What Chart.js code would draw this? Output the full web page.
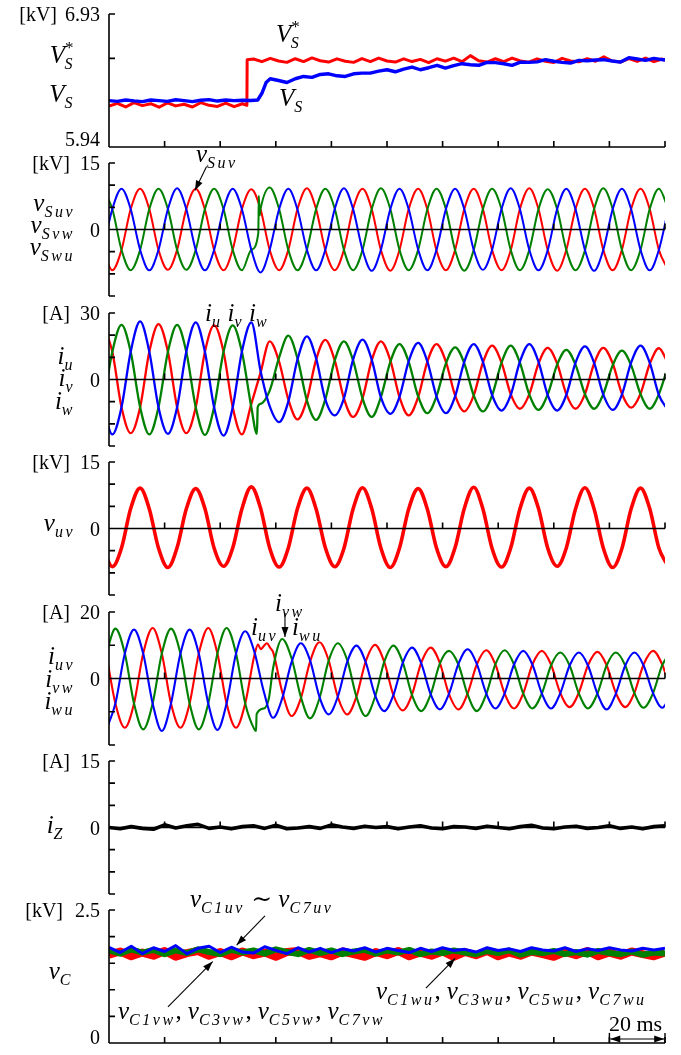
<!DOCTYPE html>
<html lang="en">
<head>
<meta charset="utf-8">
<title>Waveforms</title>
<script src="https://cdn.jsdelivr.net/npm/chart.js@4.4.1/dist/chart.umd.min.js"></script>
<style>
  html, body { margin: 0; padding: 0; background: #fff; }
  #page { position: relative; width: 681px; height: 1055px; overflow: hidden;
    font-family: "Liberation Serif", "DejaVu Serif", serif; color: #000; }
  #page canvas { position: absolute; left: 0; }
  .lbl { position: absolute; white-space: nowrap; line-height: 1; font-size: 20px; transform: translateY(-50%); }
  .m { font-style: italic; font-size: 25px; }
  .m sub { font-size: 16px; position: relative; top: 6px; vertical-align: baseline; letter-spacing: 2.5px; }
  .m sup { font-size: 17px; position: relative; top: -10px; vertical-align: baseline; font-style: normal; }
  .m sub.under { margin-left: -9px; }
  .up { font-style: normal; }
  .sep { font-style: normal; margin-right: 6px; }
  .gap { margin-right: 5px; }
  .big { font-size: 22px; }
</style>
</head>
<body>
<div id="page">
  <canvas id="chartVs" width="681" height="153" style="top:4px"></canvas>
  <canvas id="chartVsLine" width="681" height="153" style="top:153px"></canvas>
  <canvas id="chartIs" width="681" height="153" style="top:303px"></canvas>
  <canvas id="chartVuv" width="681" height="153" style="top:452px"></canvas>
  <canvas id="chartIarm" width="681" height="153" style="top:602px"></canvas>
  <canvas id="chartIz" width="681" height="153" style="top:751px"></canvas>
  <canvas id="chartVc" width="681" height="153" style="top:900px"></canvas>

  <!-- panel 1 -->
  <div class="lbl" style="right:624px;top:14px">[kV]</div>
  <div class="lbl" style="right:581px;top:14px">6.93</div>
  <div class="lbl m" style="right:606px;top:54px">V<sup>*</sup><sub class="under">S</sub></div>
  <div class="lbl m" style="right:606px;top:93px">V<sub>S</sub></div>
  <div class="lbl" style="right:581px;top:139px">5.94</div>
  <div class="lbl m" style="left:276px;top:33px">V<sup>*</sup><sub class="under">S</sub></div>
  <div class="lbl m" style="left:279px;top:97px">V<sub>S</sub></div>

  <!-- panel 2 -->
  <div class="lbl" style="right:611px;top:163px">[kV]</div>
  <div class="lbl" style="right:581px;top:163px">15</div>
  <div class="lbl m" style="right:606px;top:202px">v<sub>Suv</sub></div>
  <div class="lbl m" style="right:606px;top:224px">v<sub>Svw</sub></div>
  <div class="lbl" style="right:581px;top:229.5px">0</div>
  <div class="lbl m" style="right:606px;top:246px">v<sub>Swu</sub></div>
  <div class="lbl m" style="left:196px;top:152.5px">v<sub>Suv</sub></div>

  <!-- panel 3 -->
  <div class="lbl" style="right:611px;top:313px">[A]</div>
  <div class="lbl" style="right:581px;top:313px">30</div>
  <div class="lbl m" style="right:606px;top:355px">i<sub>u</sub></div>
  <div class="lbl m" style="right:606px;top:377px">i<sub>v</sub></div>
  <div class="lbl" style="right:581px;top:379.5px">0</div>
  <div class="lbl m" style="right:606px;top:399.5px">i<sub>w</sub></div>
  <div class="lbl m" style="left:205px;top:312px">i<sub class="gap">u</sub>i<sub class="gap">v</sub>i<sub>w</sub></div>

  <!-- panel 4 -->
  <div class="lbl" style="right:611px;top:462px">[kV]</div>
  <div class="lbl" style="right:581px;top:462px">15</div>
  <div class="lbl m" style="right:606px;top:522px">v<sub>uv</sub></div>
  <div class="lbl" style="right:581px;top:528.5px">0</div>

  <!-- panel 5 -->
  <div class="lbl" style="right:611px;top:612px">[A]</div>
  <div class="lbl" style="right:581px;top:612px">20</div>
  <div class="lbl m" style="right:606px;top:655px">i<sub>uv</sub></div>
  <div class="lbl m" style="right:606px;top:677.5px">i<sub>vw</sub></div>
  <div class="lbl" style="right:581px;top:678.5px">0</div>
  <div class="lbl m" style="right:606px;top:700px">i<sub>wu</sub></div>
  <div class="lbl m" style="left:275px;top:602px">i<sub>vw</sub></div>
  <div class="lbl m" style="left:251px;top:626px">i<sub>uv</sub></div>
  <div class="lbl m" style="left:292px;top:626px">i<sub>wu</sub></div>

  <!-- panel 6 -->
  <div class="lbl" style="right:611px;top:761px">[A]</div>
  <div class="lbl" style="right:581px;top:761px">15</div>
  <div class="lbl m" style="right:616px;top:824px">i<sub>Z</sub></div>
  <div class="lbl" style="right:581px;top:827.5px">0</div>

  <!-- panel 7 -->
  <div class="lbl" style="right:618px;top:910px">[kV]</div>
  <div class="lbl" style="right:581px;top:910px">2.5</div>
  <div class="lbl m" style="right:608px;top:970px">v<sub>C</sub></div>
  <div class="lbl" style="right:581px;top:1036.5px">0</div>
  <div class="lbl m" style="left:190px;top:898px">v<sub>C1uv</sub> <span class="up">&#8764;</span> v<sub>C7uv</sub></div>
  <div class="lbl m" style="left:118px;top:1010px">v<sub>C1vw</sub><span class="sep">,</span>v<sub>C3vw</sub><span class="sep">,</span>v<sub>C5vw</sub><span class="sep">,</span>v<sub>C7vw</sub></div>
  <div class="lbl m" style="left:376px;top:990px">v<sub>C1wu</sub><span class="sep">,</span>v<sub>C3wu</sub><span class="sep">,</span>v<sub>C5wu</sub><span class="sep">,</span>v<sub>C7wu</sub></div>
  <div class="lbl big" style="left:609px;top:1024px">20 ms</div>
</div>

<script>
// time axis [ms], ticks every 20 ms
const xTicks = [20, 40, 60, 80, 100, 120, 140, 160, 180, 200];

// panel 1: DC voltage reference and measurement [kV]
const vsRefTimes = [0, 3, 6, 9, 12, 15, 18, 21, 24, 27, 30, 33, 36, 39, 42, 45, 48, 49.6, 49.7,
  52, 55, 58, 61, 64, 67, 70, 73, 76, 79, 82, 85, 88, 91, 94, 97, 100, 103, 106, 109, 112, 115, 118,
  121, 124, 127, 130, 133, 136, 139, 142, 145, 148, 151, 154, 157, 160, 163, 166, 169, 172, 175, 178,
  181, 184, 187, 190, 193, 196, 199, 200];
const vsRefValues = [6.245, 6.265, 6.238, 6.27, 6.248, 6.262, 6.236, 6.268, 6.246, 6.258, 6.238, 6.27, 6.25, 6.242, 6.266, 6.24, 6.262, 6.25, 6.59,
  6.595, 6.575, 6.6, 6.58, 6.57, 6.597, 6.576, 6.603, 6.582, 6.572, 6.596, 6.578, 6.57, 6.598, 6.575, 6.602, 6.58, 6.572, 6.596, 6.576, 6.592,
  6.568, 6.597, 6.579, 6.601, 6.575, 6.62, 6.582, 6.572, 6.597, 6.576, 6.602, 6.58, 6.571, 6.596, 6.578, 6.569, 6.6, 6.58, 6.574, 6.597,
  6.578, 6.612, 6.58, 6.572, 6.598, 6.577, 6.602, 6.575, 6.595, 6.585];
const vsTimes = [0, 3, 6, 9, 12, 15, 18, 21, 24, 27, 30, 33, 36, 39, 42, 45, 48, 51, 53.5, 55, 56.5,
  58, 61, 64, 67, 70, 73, 76, 79, 82, 85, 88, 91, 94, 97, 100, 103, 106, 109, 112, 115, 118, 121, 124,
  127, 130, 133, 136, 139, 142, 145, 148, 151, 154, 157, 160, 163, 166, 169, 172, 175, 178, 181, 184,
  187, 190, 193, 196, 199, 200];
const vsValues = [6.285, 6.28, 6.29, 6.283, 6.278, 6.29, 6.285, 6.28, 6.292, 6.285, 6.278, 6.288, 6.293, 6.282, 6.29, 6.285, 6.288, 6.286, 6.29, 6.34, 6.42,
  6.448, 6.435, 6.42, 6.448, 6.465, 6.458, 6.48, 6.485, 6.47, 6.465, 6.485, 6.49, 6.49, 6.505, 6.515, 6.5, 6.52, 6.535, 6.515, 6.53, 6.548, 6.527, 6.545,
  6.56, 6.552, 6.548, 6.57, 6.568, 6.56, 6.548, 6.572, 6.57, 6.574, 6.59, 6.578, 6.57, 6.565, 6.585, 6.582, 6.588, 6.59, 6.58, 6.572,
  6.605, 6.595, 6.585, 6.6, 6.59, 6.59];
const vsTicks = [5.94, 6.6, 6.93];

// sample instants every 60 electrical degrees [ms]
const gridA = [-2.2, 1.2, 4.5, 7.8, 11.2, 14.5, 17.8, 21.2, 24.5, 27.8, 31.2, 34.5, 37.8, 41.2, 44.5, 47.8,
  51.2, 54.5, 57.8, 61.2, 64.5, 67.8, 71.2, 74.5, 77.8, 81.2, 84.5, 87.8, 91.2, 94.5, 97.8, 101.2,
  104.5, 107.8, 111.2, 114.5, 117.8, 121.2, 124.5, 127.8, 131.2, 134.5, 137.8, 141.2, 144.5, 147.8,
  151.2, 154.5, 157.8, 161.2, 164.5, 167.8, 171.2, 174.5, 177.8, 181.2, 184.5, 187.8, 191.2, 194.5, 197.8, 201.2];
const gridB = [-1.0, 2.3, 5.7, 9.0, 12.3, 15.7, 19.0, 22.3, 25.7, 29.0, 32.3, 35.7, 39.0, 42.3, 45.7, 49.0,
  52.3, 55.7, 59.0, 62.3, 65.7, 69.0, 72.3, 75.7, 79.0, 82.3, 85.7, 89.0, 92.3, 95.7, 99.0, 102.3,
  105.7, 109.0, 112.3, 115.7, 119.0, 122.3, 125.7, 129.0, 132.3, 135.7, 139.0, 142.3, 145.7, 149.0,
  152.3, 155.7, 159.0, 162.3, 165.7, 169.0, 172.3, 175.7, 179.0, 182.3, 185.7, 189.0, 192.3, 195.7, 199.0, 202.3];

// panel 2: grid line voltages [kV]
const vSuv = [-4.6,
  -9.2, -4.6, 4.6, 9.2, 4.6, -4.6,  -9.1, -4.6, 4.6, 9.2, 4.5, -4.6,  -9.2, -4.5, 4.6, 9.1, 4.6, -4.6,
  -9.2, -4.6, 4.6, 9.3, 4.6, -4.6,  -9.2, -4.6, 4.7, 9.2, 4.6, -4.6,  -9.3, -4.6, 4.6, 9.2, 4.6, -4.7,
  -9.2, -4.6, 4.6, 9.2, 4.6, -4.6,  -9.2, -4.7, 4.6, 9.3, 4.6, -4.6,  -9.3, -4.6, 4.6, 9.2, 4.7, -4.6,
  -9.2, -4.6, 4.6, 9.2, 4.6, -4.6,  -9.2];
const vSvw = [9.2,
  4.6, -4.6, -9.2, -4.6, 4.6, 9.2,  4.6, -4.6, -9.1, -4.6, 4.6, 9.2,  4.6, -4.6, -9.2, -4.6, 4.6, 9.5,
  4.6, -4.6, -9.2, -4.5, 4.6, 9.2,  4.7, -4.6, -9.2, -4.6, 4.6, 9.3,  4.6, -4.6, -9.2, -4.6, 4.5, 9.2,
  4.6, -4.7, -9.3, -4.6, 4.6, 9.2,  4.6, -4.6, -9.2, -4.6, 4.6, 9.1,  4.6, -4.6, -9.2, -4.7, 4.6, 9.3,
  4.6, -4.6, -9.2, -4.6, 4.6, 9.2,  4.6];
const vSvwGlitch = [[53.7, -0.8], [53.9, 7.6], [54.2, 3.2]];
const vSwu = [-4.6,
  4.6, 9.2, 4.6, -4.6, -9.2, -4.6,  4.6, 9.3, 4.6, -4.6, -9.2, -4.6,  4.6, 9.2, 4.6, -4.6, -9.7, -4.6,
  4.6, 9.2, 4.5, -4.6, -9.2, -4.6,  4.6, 9.3, 4.6, -4.6, -9.3, -4.6,  4.6, 9.2, 4.6, -4.5, -9.2, -4.6,
  4.6, 9.2, 4.6, -4.6, -9.1, -4.6,  4.6, 9.3, 4.6, -4.6, -9.2, -4.7,  4.6, 9.2, 4.6, -4.6, -9.3, -4.6,
  4.6, 9.2, 4.6, -4.6, -9.2, -4.6,  4.6];
const ticks15 = [-15, -10, -5, 0, 5, 10, 15];

// panel 3: phase currents [A]
const iU = [25, 12.5, -12.5, -24.2, -12.5, 12.5, 25, 12.5, -12.5, -24.2, -12.5, 12.5, 24.4, 12.5, -12.5, -24.8,
  -11, 3, 17.2, 8, -9, -18, -9, 9, 17.9, 8.6, -8.5, -16.9, -8.5, 8.6, 17.2, 8.6,
  -8, -16.2, -8, 8, 16, 8, -7.2, -14.4, -7.2, 7.6, 15.3, 7.6, -6.6, -13.2, -6.6, 7.2,
  14.3, 7.2, -6.6, -13.2, -6.6, 7.2, 14.3, 7.2, -6.4, -12.7, -6.4, 7, 14.1, 7];
const iV = [-12.5, 12.5, 24.6, 12.5, -12.5, -24.8, -12.5, 12.5, 24.6, 12.5, -12.5, -25, -12.5, 12.5, 24.4, 12.5,
  -12.5, -11, -5, 10, 19.8, 9.5, -9.5, -18.2, -9, 8.6, 17.2, 8.6, -8.5, -16.9, -8, 8,
  16, 8, -7.6, -15.2, -7.6, 7.3, 14.5, 7.3, -7.2, -14.4, -7.2, 7.6, 15.3, 7.6, -6.8, -13.7,
  -6.8, 6.7, 13.4, 6.7, -6.6, -13.2, -6.6, 6.5, 13, 6.5, -6.6, -13.2, -6.6, 6.5];
const iVJump = [[53.2, -24.5], [53.5, -12.4]];
const iW = [-12.5, -24.8, -12.5, 12.5, 26.2, 12.5, -12.5, -24.5, -12.5, 12.5, 25.8, 12.5, -12.5, -25.3, -12.5, 12.5,
  25.8, 4, -12, -19.2, -10, 9, 19.5, 9.5, -9, -16.2, -8.5, 9, 18, 9, -8, -15.5,
  -7.8, 8.2, 16.5, 8.2, -7.6, -15.2, -7.6, 8, 16, 8, -7, -14, -7, 8, 16, 8,
  -7, -14, -7, 7.5, 14.9, 7.5, -6.8, -13.7, -6.8, 7.6, 15.3, 7.6, -7, -14];
const ticks30 = [-30, -20, -10, 0, 10, 20, 30];

// panel 4: converter line voltage [kV]
const vUv = [-4.4,
  -8.6, -4.4, 4.5, 9.1, 4.4, -4.4,  -8.8, -4.3, 4.4, 9.0, 4.5, -4.4,  -8.5, -4.4, 4.4, 9.4, 4.6, -4.4,
  -8.7, -4.4, 4.5, 9.1, 4.4, -4.3,  -8.6, -4.5, 4.4, 9.2, 4.5, -4.4,  -8.8, -4.4, 4.4, 9.0, 4.4, -4.4,
  -8.6, -4.3, 4.5, 9.3, 4.4, -4.5,  -8.7, -4.4, 4.4, 9.1, 4.5, -4.4,  -8.5, -4.4, 4.4, 9.2, 4.4, -4.4,
  -8.8, -4.5, 4.4, 9.1, 4.5, -4.4,  -8.6];

// panel 5: arm currents [A]
const iUv = [7.5, -7.5, -14.8, -7.5, 7.5, 15.2, 7.5, -7.5, -14.8, -7.5, 7.5, 15.2, 7.5, -7.5, -14.8, -7.5,
  7, 9.8, 8, -4, -11.3, -6, 5, 10.9, 5.5, -5.5, -10.8, -5.5, 5, 10.1, 5, -5,
  -9.6, -4.8, 4.7, 9.3, 4.7, -4.7, -9.3, -4.5, 4.2, 8.5, 4.2, -4.5, -9, -4.5, 4.2, 8.3,
  4.2, -4.3, -8.6, -4.3, 4, 8, 4, -4.3, -8.6, -4.3, 4.2, 8.3, 4.2, -4.2];
const iUvHump = [[53.6, 10.2], [54.6, 8.8], [56.8, 10.6], [58, 9.2]];
const iVw = [7.5, 15, 7.5, -7.5, -15.3, -7.5, 7.5, 15, 7.5, -7.5, -15.3, -7.5, 7.5, 15.2, 7.5, -7.5,
  -15.3, -9, 3, 11.9, 6, -5.5, -12, -6, 5.3, 10.6, 5.5, -5.5, -11.3, -5.5, 5, 9.9,
  4.8, -5, -9.8, -4.8, 4.5, 8.3, 4.2, -4.8, -9.8, -4.7, 4.3, 8.5, 4.2, -4.5, -9, -4.5,
  3.9, 7.8, 3.9, -4.5, -9, -4.5, 3.9, 7.8, 3.9, -4.4, -8.8, -4.4, 4, 8];
const iVwJump = [[52.9, -15.8], [53.1, -10.7], [57.5, -6]];
const iWu = [-15.5, -7.5, 7.5, 14.7, 7.5, -7.5, -15.8, -7.5, 7.5, 14.7, 7.5, -7.5, -15.5, -7.5, 7.5, 14.2,
  8, -4, -11.8, -6, 5, 10.6, 5.5, -5.5, -10.8, -5.5, 5, 9.9, 5, -5, -9.8, -5,
  4.8, 9.3, 4.6, -4.7, -9.3, -4.6, 4.4, 8.8, 4.4, -4.5, -9, -4.5, 4.2, 8.3, 4.2, -4.5,
  -9, -4.5, 3.9, 7.8, 3.9, -4.6, -9.3, -4.6, 3.9, 7.8, 3.9, -4.4, -8.8, -4.4];
const ticks20 = [-20, -10, 0, 10, 20];

// panels 6 and 7 sample instants [ms]
const slowTimes = [0, 4, 8, 12, 16, 20, 24, 28, 32, 36, 40, 44, 48, 52, 56, 60, 64, 68, 72, 76, 80, 84, 88, 92, 96, 100,
  104, 108, 112, 116, 120, 124, 128, 132, 136, 140, 144, 148, 152, 156, 160, 164, 168, 172, 176, 180, 184, 188, 192, 196, 200];

// panel 6: circulating current [A]
const iZ = [0, -0.3, 0.2, -0.2, -0.4, 0.6, -0.1, 0.4, 0.7, -0.2, 0.1, -0.3, 0.2, 0.4, -0.2, 0.5, -0.3, -0.1, 0.2, -0.2,
  0.6, 0.1, -0.2, 0.3, 0, 0.2, -0.3, 0.1, 0.4, -0.1, -0.3, 0.2, 0.1, -0.2, 0.3, 0, -0.3, 0.2, 0.5, -0.1,
  -0.3, 0.1, 0.3, -0.2, 0, 0.4, -0.2, 0.1, -0.3, 0.2, 0.4];

// panel 7: cell capacitor voltages [kV]
const vCuv = [1.66, 1.72, 1.63, 1.70, 1.64, 1.73, 1.62, 1.69, 1.73, 1.64, 1.71, 1.63, 1.72, 1.65, 1.70, 1.62, 1.71, 1.73, 1.64, 1.69,
  1.63, 1.72, 1.67, 1.62, 1.71, 1.65, 1.73, 1.63, 1.70, 1.64, 1.72, 1.62, 1.71, 1.65, 1.73, 1.63, 1.70, 1.64, 1.72, 1.67,
  1.62, 1.71, 1.65, 1.73, 1.63, 1.70, 1.64, 1.72, 1.67, 1.63, 1.70];
const vCvw = [1.74, 1.68, 1.76, 1.70, 1.75, 1.67, 1.74, 1.69, 1.76, 1.71, 1.67, 1.75, 1.70, 1.74, 1.68, 1.76, 1.71, 1.67, 1.75, 1.69,
  1.74, 1.67, 1.72, 1.75, 1.68, 1.74, 1.70, 1.75, 1.67, 1.72, 1.69, 1.74, 1.70, 1.67, 1.73, 1.69, 1.74, 1.66, 1.71, 1.69,
  1.73, 1.67, 1.71, 1.66, 1.73, 1.69, 1.67, 1.72, 1.66, 1.70, 1.68];
const vCwu = [1.80, 1.70, 1.82, 1.68, 1.79, 1.72, 1.83, 1.68, 1.78, 1.82, 1.70, 1.80, 1.71, 1.69, 1.81, 1.74, 1.68, 1.79, 1.71, 1.78,
  1.70, 1.77, 1.73, 1.79, 1.71, 1.78, 1.74, 1.70, 1.78, 1.72, 1.79, 1.74, 1.76, 1.71, 1.79, 1.74, 1.77, 1.72, 1.79, 1.75,
  1.73, 1.79, 1.72, 1.77, 1.74, 1.79, 1.75, 1.73, 1.78, 1.75, 1.78];
const vcTicks = [0, 0.5, 1, 1.5, 2, 2.5];

const RED = "rgb(255, 0, 0)";
const GREEN = "rgb(0, 128, 0)";
const BLUE = "rgb(0, 0, 255)";
const BLACK = "rgb(0, 0, 0)";

function toPoints(times, values, extra) {
  const pts = times.map((t, i) => ({ x: t, y: values[i] }));
  (extra || []).forEach((p) => pts.push({ x: p[0], y: p[1] }));
  return pts.sort((a, b) => a.x - b.x);
}

function trace(points, color, width, smooth) {
  return {
    data: points,
    borderColor: color,
    borderWidth: width,
    pointRadius: 0,
    fill: false,
    tension: 0,
    cubicInterpolationMode: smooth ? "monotone" : "default",
    borderJoinStyle: "round",
  };
}

function drawArrow(ctx, x1, y1, x2, y2, twoHeads) {
  const ang = Math.atan2(y2 - y1, x2 - x1);
  const len = 10, half = 3.5;
  const head = (x, y, a) => {
    ctx.beginPath();
    ctx.moveTo(x, y);
    ctx.lineTo(x - len * Math.cos(a) + half * Math.sin(a), y - len * Math.sin(a) - half * Math.cos(a));
    ctx.lineTo(x - len * Math.cos(a) - half * Math.sin(a), y - len * Math.sin(a) + half * Math.cos(a));
    ctx.closePath();
    ctx.fill();
  };
  ctx.beginPath();
  ctx.moveTo(x1, y1);
  ctx.lineTo(x2, y2);
  ctx.stroke();
  head(x2, y2, ang);
  if (twoHeads) head(x1, y1, ang + Math.PI);
}

// axes drawn the way the figure has them: inward ticks, zero line with ticks
function makeAxes(deco) {
  return {
    id: "axesDeco",
    afterDatasetsDraw(chart) {
      const ctx = chart.ctx;
      const xs = chart.scales.x;
      const ys = chart.scales.y;
      const area = chart.chartArea;
      ctx.save();
      ctx.strokeStyle = BLACK;
      ctx.fillStyle = BLACK;
      ctx.lineWidth = 1.6;
      ctx.beginPath();
      ctx.moveTo(area.left, area.top);
      ctx.lineTo(area.left, area.bottom);
      deco.yTicks.forEach((v) => {
        const y = ys.getPixelForValue(v);
        ctx.moveTo(area.left, y);
        ctx.lineTo(area.left + 6, y);
      });
      const yb = ys.getPixelForValue(deco.baseline);
      ctx.moveTo(area.left, yb);
      ctx.lineTo(area.right, yb);
      xTicks.forEach((t) => {
        const x = xs.getPixelForValue(t);
        ctx.moveTo(x, yb);
        ctx.lineTo(x, yb - 6);
      });
      ctx.stroke();
      ctx.lineWidth = 1.1;
      (deco.arrows || []).forEach((a) => {
        drawArrow(ctx, xs.getPixelForValue(a.from[0]), ys.getPixelForValue(a.from[1]),
          xs.getPixelForValue(a.to[0]), ys.getPixelForValue(a.to[1]), a.both);
      });
      (deco.bars || []).forEach((b) => {
        ctx.lineWidth = 1.4;
        ctx.beginPath();
        ctx.moveTo(xs.getPixelForValue(b[0]), ys.getPixelForValue(b[1]));
        ctx.lineTo(xs.getPixelForValue(b[0]), ys.getPixelForValue(b[2]));
        ctx.stroke();
      });
      ctx.restore();
    },
  };
}

function panelConfig(datasets, yMin, yMax, deco) {
  return {
    type: "line",
    data: { datasets: datasets },
    options: {
      responsive: false,
      animation: false,
      events: [],
      layout: { padding: { left: 109, right: 16, top: 10, bottom: 10 } },
      scales: {
        x: { type: "linear", min: 0, max: 200, display: false },
        y: { type: "linear", min: yMin, max: yMax, display: false },
      },
      plugins: { legend: { display: false }, tooltip: { enabled: false } },
    },
    plugins: [makeAxes(deco)],
  };
}

new Chart(document.querySelector("#chartVs"), panelConfig([
  trace(toPoints(vsTimes, vsValues), BLUE, 3.4, false),
  trace(toPoints(vsRefTimes, vsRefValues), RED, 3, false),
], 5.94, 6.93, { yTicks: vsTicks, baseline: 5.94 }));

new Chart(document.querySelector("#chartVsLine"), panelConfig([
  trace(toPoints(gridA, vSwu), BLUE, 2, true),
  trace(toPoints(gridA, vSvw, vSvwGlitch), GREEN, 2, true),
  trace(toPoints(gridA, vSuv), RED, 2, true),
], -15, 15, { yTicks: ticks15, baseline: 0, arrows: [{ from: [35.1, 14.2], to: [30.9, 8.8] }] }));

new Chart(document.querySelector("#chartIs"), panelConfig([
  trace(toPoints(gridA, iW), BLUE, 2.3, true),
  trace(toPoints(gridA, iV, iVJump), GREEN, 2.3, true),
  trace(toPoints(gridA, iU), RED, 2.3, true),
], -30, 30, { yTicks: ticks30, baseline: 0 }));

new Chart(document.querySelector("#chartVuv"), panelConfig([
  trace(toPoints(gridA, vUv), RED, 3.6, true),
], -15, 15, { yTicks: ticks15, baseline: 0 }));

new Chart(document.querySelector("#chartIarm"), panelConfig([
  trace(toPoints(gridB, iWu), BLUE, 2.1, true),
  trace(toPoints(gridB, iVw, iVwJump), GREEN, 2.1, true),
  trace(toPoints(gridB, iUv, iUvHump), RED, 2.1, true),
], -20, 20, { yTicks: ticks20, baseline: 0, arrows: [{ from: [63.3, 19.7], to: [63.3, 12.5] }] }));

new Chart(document.querySelector("#chartIz"), panelConfig([
  trace(toPoints(slowTimes, iZ), BLACK, 3.6, false),
], -15, 15, { yTicks: ticks15, baseline: 0 }));

new Chart(document.querySelector("#chartVc"), panelConfig([
  trace(toPoints(slowTimes, vCwu), BLUE, 3, false),
  trace(toPoints(slowTimes, vCvw), GREEN, 6, false),
  trace(toPoints(slowTimes, vCuv), RED, 8, false),
], 0, 2.5, {
  yTicks: vcTicks,
  baseline: 0,
  arrows: [
    { from: [56.1, 2.39], to: [45.9, 1.84] },
    { from: [21.2, 0.68], to: [37.3, 1.53] },
    { from: [114, 1.03], to: [124.5, 1.59] },
    { from: [180.3, 0.075], to: [199.7, 0.075], both: true },
  ],
  bars: [[180, 0, 0.19], [200, 0, 0.19]],
}));
</script>
</body>
</html>
